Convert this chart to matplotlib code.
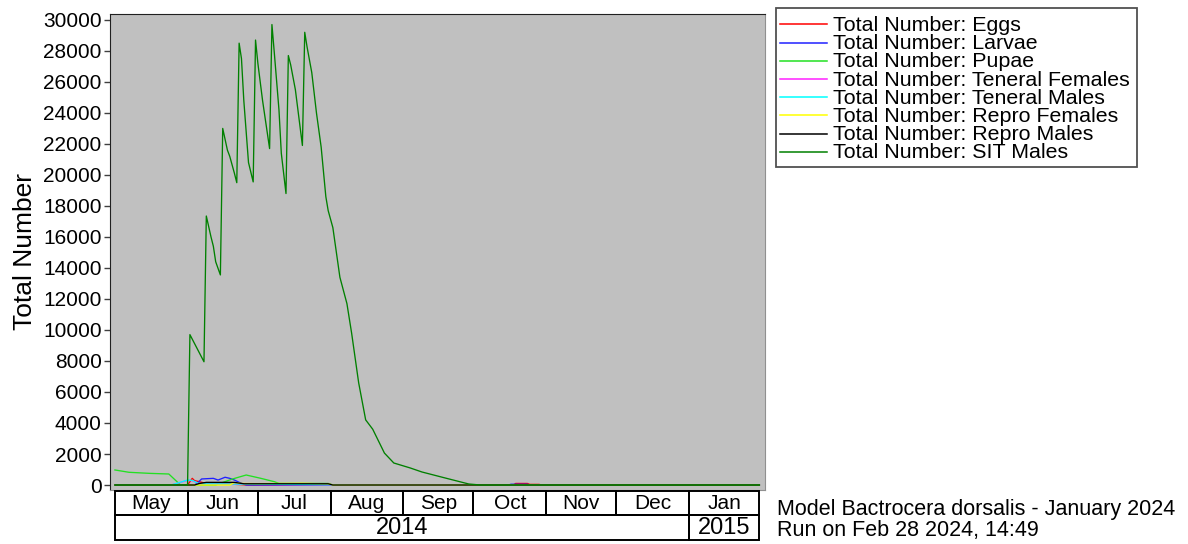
import numpy as np
import matplotlib
matplotlib.use("Agg")
import matplotlib.pyplot as plt
import matplotlib.dates as mdates
from matplotlib.patches import Rectangle
from matplotlib.lines import Line2D

plt.rcParams['font.family'] = ['Liberation Sans', 'DejaVu Sans']

# daily model output, sampled at the turning points of each curve
egg_dates = ['2014-05-01', '2014-06-01', '2014-06-03', '2014-06-04', '2014-06-06', '2014-06-09',
             '2014-06-15', '2014-06-19', '2014-06-27', '2014-10-18', '2014-10-19', '2014-10-24',
             '2014-10-25', '2014-10-29', '2014-10-30', '2015-01-31']
egg_vals = [0, 0, 430, 280, 215, 100, 90, 60, 0, 0, 100, 100, 40, 40, 0, 0]

larvae_dates = ['2014-05-01', '2014-06-04', '2014-06-05', '2014-06-07', '2014-06-12', '2014-06-14',
                '2014-06-17', '2014-06-19', '2014-06-21', '2014-06-24', '2014-06-26', '2014-10-16',
                '2014-10-17', '2014-10-24', '2014-10-25', '2015-01-31']
larvae_vals = [0, 0, 100, 390, 430, 320, 500, 430, 320, 100, 0, 0, 50, 50, 0, 0]

pupae_dates = ['2014-05-01', '2014-05-07', '2014-05-16', '2014-05-24', '2014-05-29', '2014-06-13',
               '2014-06-20', '2014-06-26', '2014-07-02', '2014-07-08', '2014-07-10', '2014-07-31',
               '2014-08-02', '2015-01-31']
pupae_vals = [970, 820, 750, 710, 0, 0, 380, 645, 440, 215, 100, 100, 0, 0]

ten_f_dates = ['2014-05-01', '2014-05-25', '2014-06-01', '2014-06-03', '2014-06-06', '2014-07-10',
               '2014-08-12', '2015-01-31']
ten_f_vals = [0, 0, 300, 280, 70, 30, 0, 0]

ten_m_dates = ['2014-05-01', '2014-05-25', '2014-06-01', '2014-06-03', '2014-06-06', '2014-07-10',
               '2014-08-12', '2015-01-31']
ten_m_vals = [0, 0, 320, 300, 80, 40, 0, 0]

rep_f_dates = ['2014-05-01', '2014-06-19', '2014-06-21', '2014-06-24', '2014-07-01', '2014-07-20',
               '2014-07-26', '2014-07-31', '2014-08-02', '2015-01-31']
rep_f_vals = [0, 0, 160, 100, 90, 110, 90, 80, 0, 0]

rep_m_dates = ['2014-05-01', '2014-06-04', '2014-06-06', '2014-06-09', '2014-06-21', '2014-06-25',
               '2014-07-31', '2014-08-02', '2015-01-31']
rep_m_vals = [0, 0, 100, 170, 170, 80, 80, 0, 0]

sit_dates = ['2014-05-01', '2014-06-01', '2014-06-02', '2014-06-08', '2014-06-09', '2014-06-11',
             '2014-06-12', '2014-06-13', '2014-06-15', '2014-06-16', '2014-06-18', '2014-06-19',
             '2014-06-21', '2014-06-22', '2014-06-23', '2014-06-24', '2014-06-25', '2014-06-27',
             '2014-06-29', '2014-06-30', '2014-07-01', '2014-07-03', '2014-07-06', '2014-07-07',
             '2014-07-08', '2014-07-10', '2014-07-11', '2014-07-13', '2014-07-14', '2014-07-15',
             '2014-07-17', '2014-07-20', '2014-07-21', '2014-07-22', '2014-07-24', '2014-07-26',
             '2014-07-28', '2014-07-30', '2014-07-31', '2014-08-02', '2014-08-05', '2014-08-08',
             '2014-08-10', '2014-08-13', '2014-08-16', '2014-08-19', '2014-08-24', '2014-08-28',
             '2014-09-04', '2014-09-09', '2014-09-19', '2014-09-29', '2014-10-04', '2015-01-31']
sit_vals = [0, 0, 9700, 7950, 17350, 16000, 15400, 14400, 13550, 23000, 21600, 21200,
            20100, 19500, 28500, 27500, 24800, 20800, 19550, 28700, 27200, 24800, 21700, 29700,
            27900, 24200, 21400, 18800, 27700, 27100, 25500, 21900, 29200, 28250, 26600, 24000,
            21800, 18600, 17700, 16600, 13400, 11700, 9800, 6600, 4200, 3600, 2060, 1420,
            1100, 840, 450, 65, 0, 0]

series = [
    ("Total Number: Eggs", egg_dates, egg_vals, "#ff0000"),
    ("Total Number: Larvae", larvae_dates, larvae_vals, "#2020ff"),
    ("Total Number: Pupae", pupae_dates, pupae_vals, "#22e022"),
    ("Total Number: Teneral Females", ten_f_dates, ten_f_vals, "#ff20ff"),
    ("Total Number: Teneral Males", ten_m_dates, ten_m_vals, "#00ffff"),
    ("Total Number: Repro Females", rep_f_dates, rep_f_vals, "#ffff00"),
    ("Total Number: Repro Males", rep_m_dates, rep_m_vals, "#000000"),
    ("Total Number: SIT Males", sit_dates, sit_vals, "#008000"),
]

months = ['May', 'Jun', 'Jul', 'Aug', 'Sep', 'Oct', 'Nov', 'Dec', 'Jan']
month_starts = ['2014-05-01', '2014-06-01', '2014-07-01', '2014-08-01', '2014-09-01',
                '2014-10-01', '2014-11-01', '2014-12-01', '2015-01-01']
years = ['2014', '2015']
year_starts = ['2014-05-01', '2015-01-01']
season_end = '2015-01-31'

W, H = 1188, 544
fig = plt.figure(figsize=(W / 100, H / 100), dpi=100)
ax = fig.add_axes([110 / W, 54 / H, 655 / W, 476 / H])
ax.set_facecolor('#c0c0c0')

lines = []
for label, d, v, c in series:
    ln, = ax.plot(np.array(d, dtype='datetime64[D]'), v, color=c, lw=0.95, label=label)
    lines.append(ln)

t0 = mdates.date2num(np.datetime64('2014-05-01'))
ax.set_xlim(t0 - 2.1, t0 + 277.4)
ax.set_ylim(-322, 30380)
ax.set_yticks(np.arange(0, 30001, 2000))
ax.set_xticks([])
ax.tick_params(axis='y', length=4, width=1, color='#404040', labelsize=15, pad=2)
ax.set_ylabel('Total Number', fontsize=19, labelpad=4)
for s in ['left', 'top']:
    ax.spines[s].set_color('#202020')
for s in ['right', 'bottom']:
    ax.spines[s].set_color('#909090')

# two-row month / year band under the plot
tab = fig.add_axes([110 / W, 4 / H, 655 / W, 49 / H])
tab.set_xlim(ax.get_xlim())
tab.set_ylim(0, 2)
tab.axis('off')
m_edges = [mdates.date2num(np.datetime64(m)) for m in month_starts] + \
          [mdates.date2num(np.datetime64(season_end))]
for i, name in enumerate(months):
    tab.add_patch(Rectangle((m_edges[i], 1.02), m_edges[i + 1] - m_edges[i], 0.98,
                            fill=False, ec='black', lw=1.4, clip_on=False))
    tab.text((m_edges[i] + m_edges[i + 1]) / 2, 1.5, name, ha='center', va='center', fontsize=15)
y_edges = [mdates.date2num(np.datetime64(y)) for y in year_starts] + [m_edges[-1]]
for i, name in enumerate(years):
    tab.add_patch(Rectangle((y_edges[i], 0), y_edges[i + 1] - y_edges[i], 1.02,
                            fill=False, ec='black', lw=1.4, clip_on=False))
    tab.text((y_edges[i] + y_edges[i + 1]) / 2, 0.5, name, ha='center', va='center', fontsize=17)

# legend box
fig.add_artist(Rectangle((776 / W, 1 - 167 / H), (1137 - 776) / W, (167 - 8) / H,
                         transform=fig.transFigure, fill=True, fc='white', ec='#505050', lw=1.3))
for i, ln in enumerate(lines):
    yl = 1 - (24.3 + 18.2 * i) / H
    fig.add_artist(Line2D([780 / W, 827 / W], [yl, yl], transform=fig.transFigure,
                          color=ln.get_color(), lw=1.1))
    fig.text(833 / W, 1 - (31 + 18.2 * i) / H, ln.get_label(), fontsize=15.4, va='baseline')

fig.text(777 / W, 1 - 514.7 / H, 'Model Bactrocera dorsalis - January 2024', fontsize=15.5, va='baseline')
fig.text(777 / W, 1 - 536.3 / H, 'Run on Feb 28 2024, 14:49', fontsize=15.5, va='baseline')

fig.savefig('out.png', dpi=100, facecolor='white')
